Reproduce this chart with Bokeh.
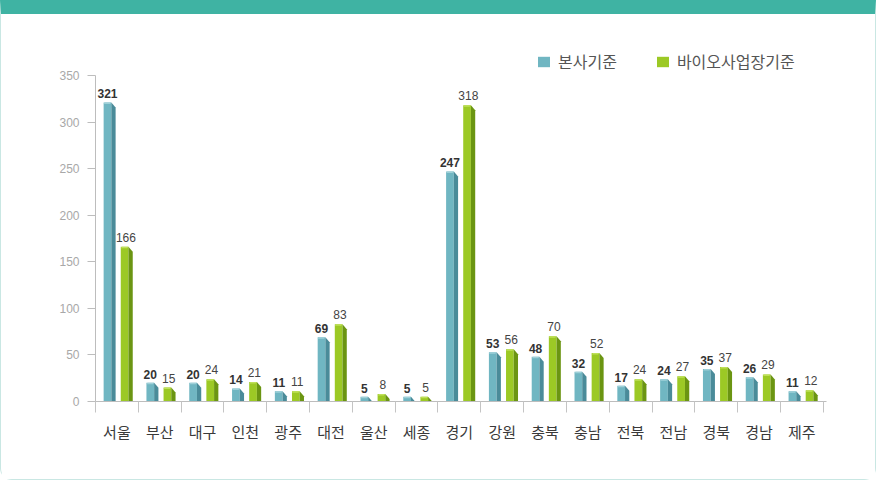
from bokeh.plotting import figure
from bokeh.models import (FixedTicker, Legend, LegendItem, Range1d)
from bokeh.core.properties import value
from bokeh.embed import file_html
from bokeh.resources import INLINE

# ---- data ----
regions = ["서울", "부산", "대구", "인천", "광주", "대전", "울산", "세종", "경기",
           "강원", "충북", "충남", "전북", "전남", "경북", "경남", "제주"]
hq = [321, 20, 20, 14, 11, 69, 5, 5, 247, 53, 48, 32, 17, 24, 35, 26, 11]
bio = [166, 15, 24, 21, 11, 83, 8, 5, 318, 56, 70, 52, 24, 27, 37, 29, 12]
series_names = ["본사기준", "바이오사업장기준"]
y_ticks = [0, 50, 100, 150, 200, 250, 300, 350]

# ---- styling ----
TEAL = "#70b6c2"
TEAL_SIDE = "#4a8b99"
TEAL_TOP = "#9fd0d8"
GREEN = "#9cc925"
GREEN_SIDE = "#6b9512"
GREEN_TOP = "#bfe05a"
KR = "Noto Sans CJK KR"

n = len(regions)
p = figure(width=876, height=480, output_backend="svg", toolbar_location=None,
           x_range=Range1d(0, 17.52), y_range=Range1d(0, 376.8),
           min_border_left=94, min_border_right=32, min_border_top=36, min_border_bottom=93,
           background_fill_color="white", border_fill_color="white", outline_line_color=None)
p.grid.visible = False
# card look: teal header band and light rounded border
p.styles = {"border-top": "14px solid #3fb3a3",
            "border-left": "1.5px solid #c9e7e3",
            "border-right": "1.5px solid #c9e7e3",
            "border-bottom": "1.5px solid #c9e7e3",
            "border-radius": "0 0 12px 12px",
            "background-color": "white"}

def bars(vals, start, front_c, side_c, top_c):
    xl = [i + start for i in range(n)]
    xf = [x + 0.18 for x in xl]
    xr = [x + 0.28 for x in xl]
    k = 350 / 326.0  # data units per pixel
    front = p.quad(left=xl, right=xf, bottom=0, top=vals, fill_color=front_c,
                   line_color=None)
    side_xs = [[a, b, b, a] for a, b in zip(xf, xr)]
    side_ys = [[v, v - 5 * k, 0, 0] for v in vals]
    p.patches(side_xs, side_ys, fill_color=side_c, line_color=None)
    cap_xs = [[a, a + 0.03, b, b - 0.03] for a, b in zip(xl, xf)]
    cap_ys = [[v - 1.5 * k, v, v, v - 1.5 * k] for v in vals]
    p.patches(cap_xs, cap_ys, fill_color=top_c, line_color=None)
    return front, [(a + b) / 2 for a, b in zip(xl, xf)]

r_hq, cx_hq = bars(hq, 0.19, TEAL, TEAL_SIDE, TEAL_TOP)
r_bio, cx_bio = bars(bio, 0.59, GREEN, GREEN_SIDE, GREEN_TOP)

p.text(x=cx_hq, y=hq, text=[str(v) for v in hq],
       text_font=value("Liberation Sans"), text_font_size="12px", text_font_style="bold",
       text_color="#333333", text_align="center", text_baseline="bottom", y_offset=-4)
p.text(x=[c + 0.03 for c in cx_bio], y=bio, text=[str(v) for v in bio],
       text_font=value("Liberation Sans"), text_font_size="12px", text_font_style="normal",
       text_color="#444444", text_align="center", text_baseline="bottom", y_offset=-5)

# axes
xa = p.xaxis[0]
xa.bounds = (0, 17.07)
xa.ticker = FixedTicker(ticks=[i + 0.5 for i in range(n)], minor_ticks=list(range(n + 1)))
xa.major_label_overrides = {i + 0.5: r for i, r in enumerate(regions)}
xa.major_tick_line_color = None
xa.major_tick_out = 0
xa.minor_tick_out = 11
xa.minor_tick_in = 0
xa.minor_tick_line_color = "#c4c4c4"
xa.axis_line_color = "#bdbdbd"
xa.major_label_standoff = 8
xa.major_label_text_font = KR
xa.major_label_text_font_size = "15px"
xa.major_label_text_color = "#3a3a3a"

ya = p.yaxis[0]
ya.bounds = (0, 350)
ya.ticker = FixedTicker(ticks=y_ticks, minor_ticks=[])
ya.axis_line_color = "#bdbdbd"
ya.major_tick_line_color = "#bdbdbd"
ya.major_tick_out = 8
ya.major_tick_in = 0
ya.major_label_standoff = 8
ya.major_label_text_font = "Liberation Sans"
ya.major_label_text_font_size = "12px"
ya.major_label_text_color = "#a8a8a8"

legend = Legend(items=[LegendItem(label=series_names[0], renderers=[r_hq]),
                       LegendItem(label=series_names[1], renderers=[r_bio])],
                location=(441, 328), orientation="horizontal",
                label_text_font=KR, label_text_font_size="16px", label_text_color="#555555",
                glyph_width=15, glyph_height=13, label_standoff=7, spacing=38,
                padding=0, margin=0, background_fill_alpha=0, border_line_color=None)
p.add_layout(legend)

open("out.html", "w").write(file_html(p, INLINE))
